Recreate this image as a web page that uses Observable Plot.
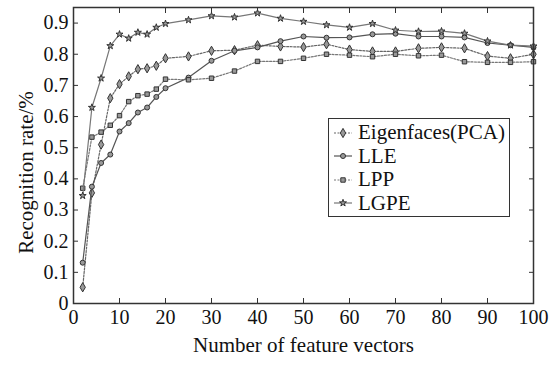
<!DOCTYPE html>
<html>
<head>
<meta charset="utf-8">
<script src="https://cdn.jsdelivr.net/npm/d3@7"></script>
<script src="https://cdn.jsdelivr.net/npm/@observablehq/plot@0.6"></script>
<style>
  html, body { margin: 0; padding: 0; background: #fff; }
  #wrap { position: relative; width: 552px; height: 371px; }
  #legend {
    position: absolute; left: 328px; top: 118px; width: 180px; height: 95px;
    border: 1.5px solid #333; background: #fff;
    font-family: "Liberation Serif", "Times New Roman", Times, serif; font-size: 21px; color: #111;
    padding-top: 2px;
  }
  .row { display: flex; align-items: center; height: 23.5px; }
  .row svg { margin-left: 5px; margin-right: 6px; }
</style>
</head>
<body>
<div id="wrap"></div>
<script>
const xValues = [2,4,6,8,10,12,14,16,18,20,25,30,35,40,45,50,55,60,65,70,75,80,85,90,95,100];
const pcaValues  = [0.052,0.355,0.510,0.659,0.704,0.729,0.752,0.755,0.763,0.787,0.793,0.811,0.813,0.829,0.825,0.823,0.832,0.815,0.809,0.809,0.819,0.822,0.819,0.794,0.787,0.800];
const lleValues  = [0.131,0.375,0.451,0.478,0.552,0.579,0.613,0.629,0.663,0.691,0.725,0.779,0.811,0.822,0.842,0.857,0.853,0.854,0.864,0.866,0.857,0.857,0.854,0.836,0.829,0.822];
const lppValues  = [0.370,0.534,0.550,0.572,0.603,0.648,0.667,0.672,0.688,0.720,0.718,0.723,0.746,0.777,0.777,0.787,0.800,0.797,0.792,0.800,0.795,0.797,0.776,0.774,0.774,0.776];
const lgpeValues = [0.346,0.629,0.723,0.827,0.864,0.851,0.870,0.864,0.886,0.898,0.910,0.923,0.919,0.932,0.915,0.905,0.894,0.886,0.898,0.877,0.873,0.874,0.867,0.842,0.829,0.826];
const seriesNames = ["Eigenfaces(PCA)", "LLE", "LPP", "LGPE"];
const xTicks = [0,10,20,30,40,50,60,70,80,90,100];
const yTicks = [0,0.1,0.2,0.3,0.4,0.5,0.6,0.7,0.8,0.9];
const xTitle = "Number of feature vectors";
const yTitle = "Recognition rate/%";

const styles = {
  "Eigenfaces(PCA)": {values: pcaValues, symbol: "diamond", dash: "2,1.5", stroke: "#666", r: 2.8},
  "LLE": {values: lleValues, symbol: "circle", dash: null, stroke: "#555", r: 2.5},
  "LPP": {values: lppValues, symbol: "square", dash: "2,1.5", stroke: "#777", r: 2.5},
  "LGPE": {values: lgpeValues, symbol: "star", dash: null, stroke: "#777", r: 2.2}
};

const marks = [];
for (const name of seriesNames) {
  const s = styles[name];
  const data = xValues.map((x, i) => ({x, y: s.values[i], series: name}));
  marks.push(Plot.line(data, {x: "x", y: "y", stroke: s.stroke, strokeWidth: 1.2, strokeDasharray: s.dash}));
  marks.push(Plot.dot(data, {x: "x", y: "y", symbol: () => s.symbol, r: s.r, fill: "#999", stroke: "#333", strokeWidth: 1}));
}

const fmtY = d => d === 0 ? "0" : d.toFixed(1);
const font = "'Liberation Serif', 'Times New Roman', Times, serif";
const chart = Plot.plot({
  width: 552, height: 371,
  marginTop: 7, marginRight: 19, marginBottom: 68, marginLeft: 73,
  style: {fontFamily: font, fontSize: "20px", background: "#fff", color: "#111"},
  x: {domain: [0, 100]},
  y: {domain: [0, 0.95]},
  marks: [
    Plot.axisX(xTicks, {anchor: "bottom", tickSize: -5, tickPadding: 11, label: null, stroke: "#333"}),
    Plot.axisX(xTicks, {anchor: "top", tickSize: -5, tickFormat: () => "", label: null, stroke: "#333"}),
    Plot.axisY(yTicks, {anchor: "left", tickSize: -5, tickPadding: 10, tickFormat: fmtY, label: null, stroke: "#333"}),
    Plot.axisY(yTicks, {anchor: "right", tickSize: -5, tickFormat: () => "", label: null, stroke: "#333"}),
    Plot.text([xTitle], {frameAnchor: "bottom", dy: 48, fontSize: 21, fill: "#111", fontFamily: font}),
    Plot.text([yTitle], {frameAnchor: "left", rotate: -90, textAnchor: "middle", dx: -47, dy: 17, fontSize: 21, fill: "#111", fontFamily: font}),
    ...marks,
    Plot.frame({stroke: "#333", strokeWidth: 1.5})
  ]
});
const wrap = document.getElementById("wrap");
wrap.appendChild(chart);

// legend overlay
const legend = document.createElement("div");
legend.id = "legend";
for (const name of seriesNames) {
  const s = styles[name];
  const row = document.createElement("div");
  row.className = "row";
  const svg = d3.create("svg").attr("width", 18).attr("height", 10);
  svg.append("line").attr("x1", 0).attr("x2", 18).attr("y1", 5).attr("y2", 5)
    .attr("stroke", s.stroke).attr("stroke-width", 1.2).attr("stroke-dasharray", s.dash);
  const sym = {diamond: d3.symbolDiamond, circle: d3.symbolCircle, square: d3.symbolSquare, star: d3.symbolStar}[s.symbol];
  svg.append("path").attr("transform", "translate(9,5)")
    .attr("d", d3.symbol(sym, Math.PI * s.r * s.r)())
    .attr("fill", "#999").attr("stroke", "#333").attr("stroke-width", 1);
  row.appendChild(svg.node());
  const t = document.createElement("span");
  t.textContent = name;
  row.appendChild(t);
  legend.appendChild(row);
}
wrap.appendChild(legend);
</script>
</body>
</html>
